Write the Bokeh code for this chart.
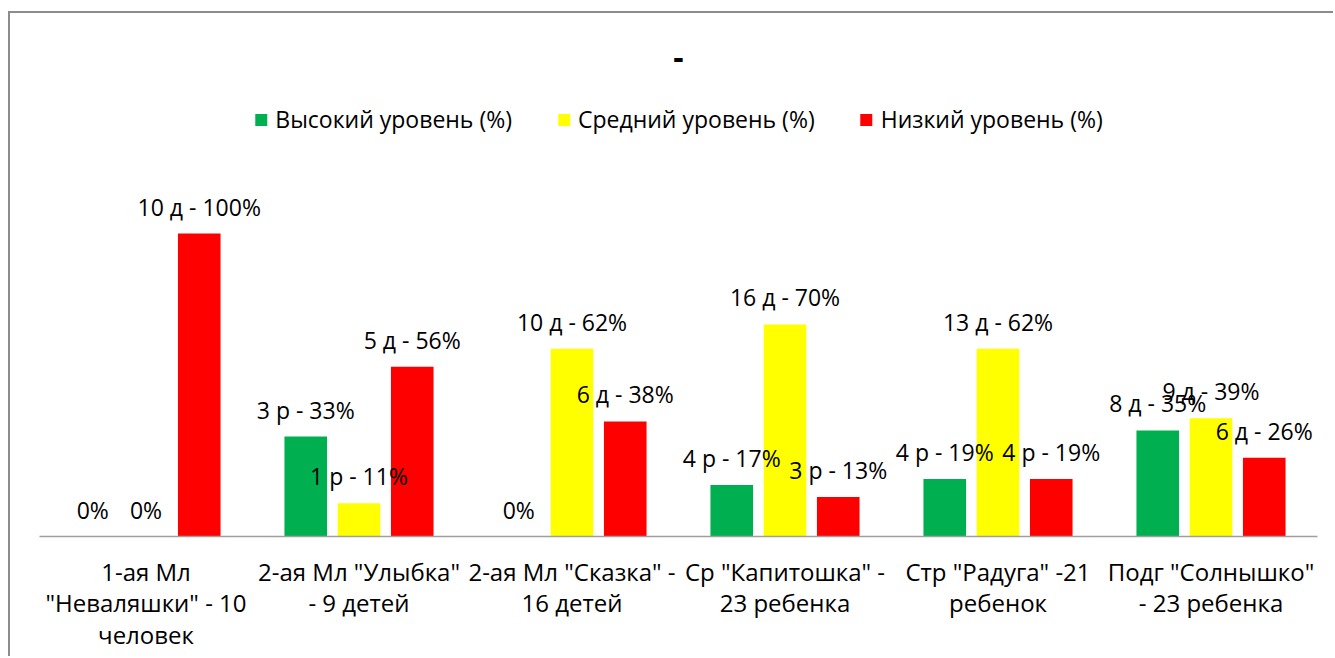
from bokeh.plotting import figure
from bokeh.models import ColumnDataSource, Legend, LegendItem, FactorRange
from bokeh.transform import dodge
from bokeh.core.properties import value
from bokeh.embed import file_html
from bokeh.resources import INLINE

categories = [
    '1-ая Мл\n"Неваляшки" - 10\nчеловек',
    '2-ая Мл "Улыбка"\n- 9 детей',
    '2-ая Мл "Сказка" -\n16 детей',
    'Ср "Капитошка" -\n23 ребенка',
    'Стр "Радуга" -21\nребенок',
    'Подг "Солнышко"\n- 23 ребенка',
]
series_names = ["Высокий уровень (%)", "Средний уровень (%)", "Низкий уровень (%)"]
high = [0, 33, 0, 17, 19, 35]
mid = [0, 11, 62, 70, 62, 39]
low = [100, 56, 38, 13, 19, 26]
high_labels = ["0%", "3 р - 33%", "0%", "4 р - 17%", "4 р - 19%", "8 д - 35%"]
mid_labels = ["0%", "1 р - 11%", "10 д - 62%", "16 д - 70%", "13 д - 62%", "9 д - 39%"]
low_labels = ["10 д - 100%", "5 д - 56%", "6 д - 38%", "3 р - 13%", "4 р - 19%", "6 д - 26%"]
colors = ["#00B050", "#FFFF00", "#FF0000"]

FONT = "Open Sans"
FS = "23px"

source = ColumnDataSource(dict(
    cat=categories, high=high, mid=mid, low=low,
    high_lab=high_labels, mid_lab=mid_labels, low_lab=low_labels,
))

p = figure(
    x_range=FactorRange(factors=categories, range_padding=0),
    y_range=(0, 145.9),
    width=1325, height=645,
    output_backend="svg", toolbar_location=None,
    min_border_left=29, min_border_right=18, min_border_top=81, min_border_bottom=122,
)
p.styles = {
    "margin-left": "8px", "margin-top": "11px",
    "border-left": "2px solid #8c8c8c", "border-top": "2px solid #8c8c8c",
}

p.title.text = "-"
p.title.align = "center"
p.title.text_font = FONT
p.title.text_font_size = "32px"
p.title.text_font_style = "bold"
p.title.text_color = "black"
p.title.standoff = 52

offsets = [-0.25, 0.0, 0.25]
cols = ["high", "mid", "low"]
labcols = ["high_lab", "mid_lab", "low_lab"]
renderers = []
for off, c, col in zip(offsets, cols, colors):
    r = p.vbar(x=dodge("cat", off, range=p.x_range), top=c, width=0.2,
               source=source, fill_color=col, line_color=None)
    renderers.append(r)

for off, lc in zip(offsets, labcols):
    col_y = lc.replace("_lab", "")
    p.text(x=dodge("cat", off, range=p.x_range), y=col_y, text=lc, source=source,
           text_font=value(FONT), text_font_size=FS, text_align="center",
           text_baseline="middle", y_offset=-27, text_color="black")

legend = Legend(
    items=[LegendItem(label=n, renderers=[r]) for n, r in zip(series_names, renderers)],
    orientation="horizontal", location="top_center",
    glyph_width=15, glyph_height=15, label_standoff=7, spacing=44,
    label_text_font=FONT, label_text_font_size=FS, label_text_color="black",
    label_height=20, padding=9, margin=0,
    border_line_alpha=0, background_fill_alpha=0,
)
p.add_layout(legend)

p.yaxis.visible = False
p.xgrid.visible = False
p.ygrid.visible = False
p.outline_line_color = None
p.xaxis.axis_line_color = "#a0a0a0"
p.xaxis.axis_line_width = 1.5
p.xaxis.major_tick_line_color = None
p.xaxis.major_tick_out = 0
p.xaxis.minor_tick_line_color = None
p.xaxis.major_label_standoff = 18
p.xaxis.major_label_text_font = FONT
p.xaxis.major_label_text_font_size = "24px"
p.xaxis.major_label_text_color = "black"
p.xaxis.major_label_text_line_height = 0.96
p.xaxis.major_label_orientation = "horizontal"

open("out.html", "w").write(file_html(p, INLINE))
